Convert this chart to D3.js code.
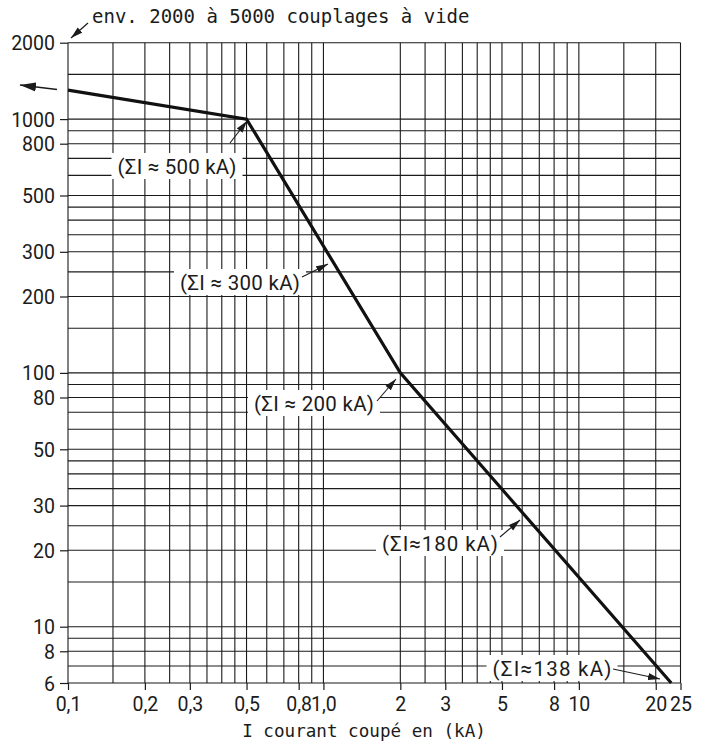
<!DOCTYPE html>
<html>
<head>
<meta charset="utf-8">
<script src="https://cdn.jsdelivr.net/npm/d3@7"></script>
<style>
  html, body { margin: 0; padding: 0; background: #fff; }
  svg { display: block; }
</style>
</head>
<body>
<svg id="chart" width="707" height="747"></svg>
<script>
// ---------------- data ----------------
const xGridValues = [0.1, 0.15, 0.2, 0.25, 0.3, 0.35, 0.4, 0.45, 0.5, 0.6, 0.7, 0.8, 0.9, 1,
                     2, 2.5, 3, 3.5, 4, 4.5, 5, 6, 7, 8, 9, 10, 15, 20, 25];
const yGridValues = [6, 7, 8, 9, 10, 15, 20, 25, 30, 35, 40, 45, 50, 60, 70, 80, 90, 100,
                     150, 200, 250, 300, 350, 400, 450, 500, 600, 700, 800, 900, 1000, 1500, 2000];
const xTickValues = [0.1, 0.2, 0.3, 0.5, 0.8, 1, 2, 3, 5, 8, 10, 20, 25];
const xTickLabels = ["0,1", "0,2", "0,3", "0,5", "0,8", "1,0", "2", "3", "5", "8", "10", "20", "25"];
const yTickValues = [2000, 1000, 800, 500, 300, 200, 100, 80, 50, 30, 20, 10, 8, 6];
const yTickLabels = ["2000", "1000", "800", "500", "300", "200", "100", "80", "50", "30", "20", "10", "8", "6"];
const curveCurrent = [0.1, 0.5, 2, 23];        // kA
const curveOperations = [1300, 1000, 100, 6];  // number of operations
const annotationTexts = ["(ΣI ≈ 500 kA)", "(ΣI ≈ 300 kA)", "(ΣI ≈ 200 kA)", "(ΣI≈180 kA)", "(ΣI≈138 kA)"];
const titleText = "env. 2000 à 5000 couplages à vide";
const xAxisTitle = "I courant coupé en (kA)";

(function () {
// ---------------- layout ----------------
const svg = d3.select("#chart");
const pl = 68, pr = 680.5, pt = 42.7, pb = 683;
const x = d3.scaleLog().domain([0.1, 25]).range([pl, pr]);
const y = d3.scaleLog().domain([6, 2000]).range([pb, pt]);
const ink = "#1b1b1b";
const tickFont = "Roboto, 'DejaVu Sans', sans-serif";
const monoFont = "'DejaVu Sans Mono', 'Liberation Mono', monospace";

svg.append("rect").attr("width", 707).attr("height", 747).attr("fill", "#fff");

// grid
const grid = svg.append("g").attr("stroke", ink).attr("stroke-width", 1.1).attr("fill", "none");
grid.selectAll("line.v").data(xGridValues).join("line").attr("class", "v")
  .attr("x1", d => x(d)).attr("x2", d => x(d)).attr("y1", pt).attr("y2", pb);
grid.selectAll("line.h").data(yGridValues).join("line").attr("class", "h")
  .attr("y1", d => y(d)).attr("y2", d => y(d)).attr("x1", pl).attr("x2", pr);

// axes
const yAxis = d3.axisLeft(y).tickValues(yTickValues).tickSize(8).tickPadding(5)
  .tickFormat((d, i) => yTickLabels[i]);
const gy = svg.append("g").attr("transform", `translate(${pl},0)`).call(yAxis);
gy.select(".domain").remove();
gy.selectAll(".tick line").attr("stroke", ink).attr("stroke-width", 1.2);
gy.selectAll(".tick text").attr("font-family", tickFont).attr("font-size", 19.5)
  .attr("fill", ink).attr("dy", "0.36em");

const xAxis = d3.axisBottom(x).tickValues(xTickValues).tickSize(7).tickPadding(6)
  .tickFormat((d, i) => xTickLabels[i]);
const gx = svg.append("g").attr("transform", `translate(0,${pb})`).call(xAxis);
gx.select(".domain").remove();
gx.selectAll(".tick line").attr("stroke", ink).attr("stroke-width", 1.2);
gx.selectAll(".tick text").attr("font-family", tickFont).attr("font-size", 19.5)
  .attr("fill", ink).attr("dy", "0.76em");

// arrow markers
const defs = svg.append("defs");
defs.append("marker").attr("id", "ah").attr("viewBox", "0 0 12 8")
  .attr("refX", 12).attr("refY", 4).attr("markerWidth", 12).attr("markerHeight", 8)
  .attr("markerUnits", "userSpaceOnUse").attr("orient", "auto")
  .append("path").attr("d", "M0,0.5 L12,4 L0,7.5 Z").attr("fill", ink);
defs.append("marker").attr("id", "ahBig").attr("viewBox", "0 0 16 10")
  .attr("refX", 16).attr("refY", 5).attr("markerWidth", 16).attr("markerHeight", 10)
  .attr("markerUnits", "userSpaceOnUse").attr("orient", "auto")
  .append("path").attr("d", "M0,0.5 L16,5 L0,9.5 Z").attr("fill", ink);

// annotation label boxes (drawn before curve so curve stays on top)
const annLayout = [
  { cx: 177, cy: 166, w: 119, tail: [230, 143], tip: [247, 121] },
  { cx: 240, cy: 282, w: 120, tail: [302, 277], tip: [328, 264] },
  { cx: 314, cy: 403, w: 120, tail: [377, 401], tip: [396, 379] },
  { cx: 440, cy: 543, w: 116, tail: [500, 537], tip: [520, 520] },
  { cx: 552, cy: 668, w: 119, tail: [613, 669], tip: [660, 679] }
];
const ann = svg.append("g");
annLayout.forEach((a) => {
  ann.append("rect").attr("x", a.cx - a.w / 2 - 6).attr("y", a.cy - 13)
    .attr("width", a.w + 12).attr("height", 26).attr("fill", "#fff");
});

// curve
const line = d3.line().x(d => x(d[0])).y(d => y(d[1]));
svg.append("path").datum(curveCurrent.map((c, i) => [c, curveOperations[i]]))
  .attr("d", line).attr("fill", "none").attr("stroke", "#111")
  .attr("stroke-width", 3.2).attr("stroke-linejoin", "miter");

// annotation texts and arrows
const annT = svg.append("g");
annLayout.forEach((a, i) => {
  annT.append("text").attr("x", a.cx - a.w / 2).attr("y", a.cy + 7.5)
    .attr("textLength", a.w).attr("lengthAdjust", "spacing")
    .attr("font-family", tickFont).attr("font-size", 20.5).attr("fill", ink)
    .text(annotationTexts[i]);
  annT.append("line").attr("x1", a.tail[0]).attr("y1", a.tail[1])
    .attr("x2", a.tip[0]).attr("y2", a.tip[1])
    .attr("stroke", ink).attr("stroke-width", 1.1).attr("marker-end", "url(#ah)");
});

// left arrow (beyond 0.1 kA) and title arrow
svg.append("line").attr("x1", 57).attr("y1", 89.5).attr("x2", 20).attr("y2", 85)
  .attr("stroke", ink).attr("stroke-width", 1.3).attr("marker-end", "url(#ahBig)");
svg.append("line").attr("x1", 88).attr("y1", 23).attr("x2", 71).attr("y2", 38)
  .attr("stroke", ink).attr("stroke-width", 1.2).attr("marker-end", "url(#ah)");

// title
svg.append("text").attr("x", 92).attr("y", 23)
  .attr("font-family", monoFont).attr("font-size", 19).attr("fill", ink)
  .text(titleText);

// x axis title
svg.append("text").attr("x", 364).attr("y", 737).attr("text-anchor", "middle")
  .attr("font-family", monoFont).attr("font-size", 17.6).attr("fill", ink)
  .text(xAxisTitle);
})();
</script>
</body>
</html>
